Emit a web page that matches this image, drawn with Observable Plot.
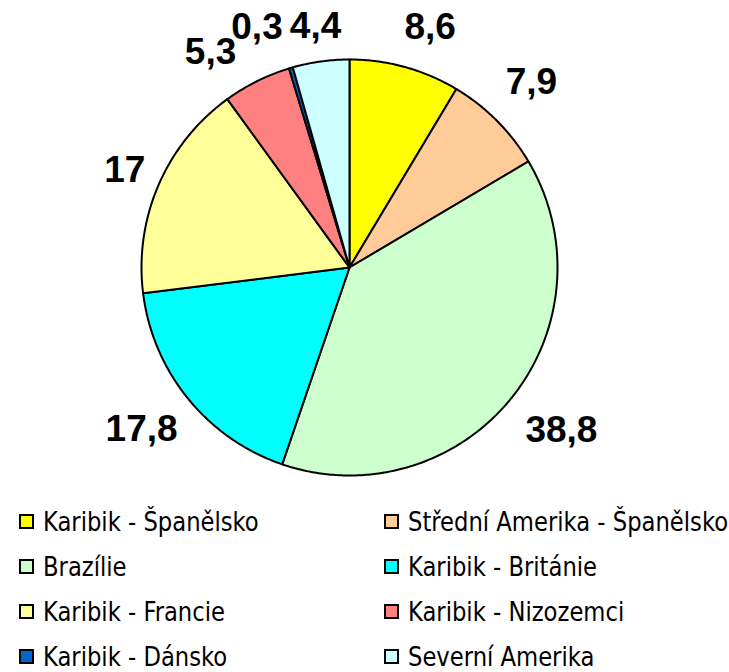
<!DOCTYPE html>
<html><head><meta charset="utf-8">
<script src="https://cdn.jsdelivr.net/npm/d3@7"></script>
<script src="https://cdn.jsdelivr.net/npm/@observablehq/plot@0.6"></script>
<style>
body{margin:0;background:#fff;overflow:hidden;}
#chart{height:490px;}
#legend{display:grid;grid-template-columns:365px 346px;padding-left:19px;padding-top:9px;}
.item{height:45px;display:flex;align-items:center;font-family:"DejaVu Sans Condensed","DejaVu Sans";font-size:26px;line-height:1;color:#000;white-space:nowrap;}
.txt{display:inline-block;line-height:1;transform:scaleX(0.97);transform-origin:0 50%;}
.sw{width:11px;height:11px;border:2px solid #000;margin-right:9px;flex:none;}
</style></head><body>
<div id="chart"></div><div id="legend"></div>
<script>
const categories = ["Karibik - Španělsko","Střední Amerika - Španělsko","Brazílie","Karibik - Británie","Karibik - Francie","Karibik - Nizozemci","Karibik - Dánsko","Severní Amerika"];
const values = [8.6, 7.9, 38.8, 17.8, 17, 5.3, 0.3, 4.4];
const valueLabels = ["8,6","7,9","38,8","17,8","17","5,3","0,3","4,4"];
const colors = ["#FFFF00","#FFCC99","#CCFFCC","#00FFFF","#FFFF99","#FF8080","#0066CC","#CCFFFF"];

const W = 729, H = 490, cx = 349, cy = 267, R = 208;
const total = d3.sum(values);
const pts = [];
const labs = [];
const nudge = [[13, 4], [2, -6], [15, 3], [-11, 2], [8, 4], [-26, 12], [-21, 3], [1, 10]];
let acc = 0;
values.forEach((v, i) => {
  const a0 = acc / total * 2 * Math.PI;
  acc += v;
  const a1 = acc / total * 2 * Math.PI;
  pts.push({cat: categories[i], x: 0, y: 0});
  const n = Math.max(2, Math.ceil((a1 - a0) / 0.01));
  for (let k = 0; k <= n; k++) {
    const a = a0 + (a1 - a0) * k / n;
    pts.push({cat: categories[i], x: Math.sin(a), y: Math.cos(a)});
  }
  pts.push({cat: categories[i], x: 0, y: 0});
  const am = (a0 + a1) / 2, lr = 1.22;
  const [dx, dy] = nudge[i];
  labs.push({text: valueLabels[i], x: lr * Math.sin(am) + dx / R, y: lr * Math.cos(am) - dy / R});
});

const chart = Plot.plot({
  width: W, height: H, margin: 0,
  x: {axis: null, domain: [-cx / R, (W - cx) / R], range: [0, W]},
  y: {axis: null, domain: [-(H - cy) / R, cy / R], range: [H, 0]},
  color: {domain: categories, range: colors},
  marks: [
    Plot.line(pts, {x: "x", y: "y", z: "cat", fill: "cat", stroke: "#000", strokeWidth: 2, strokeLinejoin: "round"}),
    Plot.text(labs, {x: "x", y: "y", text: "text", fontSize: 37, fontWeight: "bold", fontFamily: "Liberation Sans", fill: "#000"})
  ]
});
document.getElementById("chart").append(chart);

const leg = document.getElementById("legend");
categories.forEach((c, i) => {
  const it = document.createElement("div");
  it.className = "item";
  const sw = document.createElement("span");
  sw.className = "sw";
  sw.style.background = colors[i];
  const t = document.createElement("span");
  t.className = "txt";
  t.textContent = c;
  it.append(sw, t);
  leg.append(it);
});
</script>
</body></html>
